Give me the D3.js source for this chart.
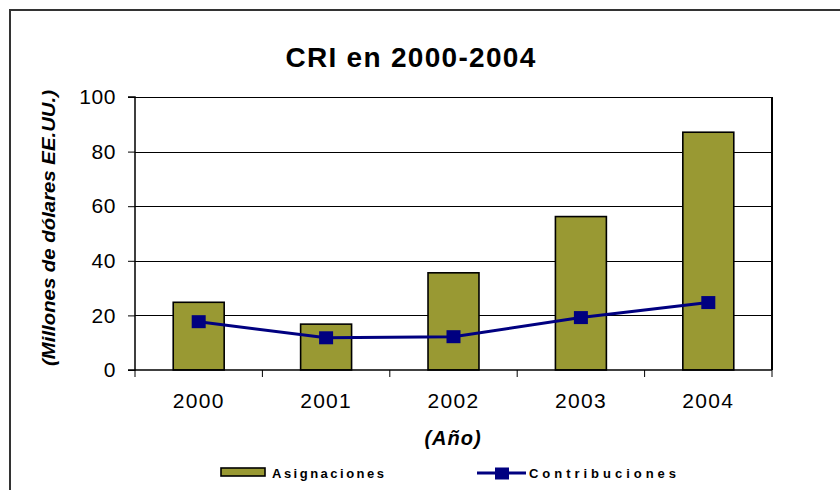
<!DOCTYPE html>
<html><head><meta charset="utf-8">
<script src="https://cdn.jsdelivr.net/npm/d3@7"></script>
<style>body{margin:0;background:#fff}svg{display:block}text{font-family:Arial,"Liberation Sans",sans-serif}</style>
</head><body><svg id="c" width="840" height="490"></svg>
<script>
const categories = ["2000","2001","2002","2003","2004"];
const asignaciones = [24.8, 16.8, 35.6, 56.2, 87.1];
const contribuciones = [17.7, 11.8, 12.2, 19.2, 24.7];
const yTicks = [0,20,40,60,80,100];
const title = "CRI en 2000-2004";
const yTitle = "(Millones de dólares EE.UU.)";
const xTitle = "(Año)";
const seriesNames = ["Asignaciones","Contribuciones"];

const svg = d3.select("#c");
const L=135, R=772, T=97, B=370;
// outer border
svg.append("rect").attr("x",10).attr("y",10).attr("width",840).attr("height",490)
  .attr("fill","none").attr("stroke","#333").attr("stroke-width",2);

const x = d3.scaleBand().domain(categories).range([L,R]).paddingInner(0.6).paddingOuter(0.3);
const y = d3.scaleLinear().domain([0,100]).range([B,T]);
const step = x.step(), bw = x.bandwidth();

// gridlines
svg.append("g").selectAll("line").data(yTicks.filter(d=>d>0&&d<100)).join("line")
  .attr("x1",L).attr("x2",R).attr("y1",d=>Math.round(y(d))+0.5).attr("y2",d=>Math.round(y(d))+0.5)
  .attr("stroke","#000").attr("stroke-width",1);

// plot frame top/right
svg.append("line").attr("x1",L).attr("x2",R).attr("y1",T+0.5).attr("y2",T+0.5).attr("stroke","#000").attr("stroke-width",1);
svg.append("line").attr("x1",R).attr("x2",R).attr("y1",T).attr("y2",B).attr("stroke","#000").attr("stroke-width",2);

// bars
svg.append("g").selectAll("rect").data(asignaciones).join("rect")
  .attr("x",(d,i)=>x(categories[i])).attr("width",bw)
  .attr("y",d=>y(d)).attr("height",d=>B-y(d))
  .attr("fill","#999933").attr("stroke","#000").attr("stroke-width",1.6);

// y axis
const yAxis = d3.axisLeft(y).tickValues(yTicks).tickSize(7).tickPadding(12).tickFormat(d3.format("d"));
const gy = svg.append("g").attr("transform",`translate(${L},0)`).call(yAxis);
gy.select(".domain").attr("stroke","#000").attr("stroke-width",1.5).attr("d",`M-7,${T}H0V${B}H-7`);
gy.selectAll(".tick line").attr("stroke","#000");
gy.selectAll(".tick text").attr("font-size",21).attr("fill","#000").attr("letter-spacing","0.6px")
  .attr("font-family","Arial,'Liberation Sans',sans-serif");

// x axis
const xAxis = d3.axisBottom(x).tickSize(0).tickPadding(23);
const gx = svg.append("g").attr("transform",`translate(0,${B})`).call(xAxis);
gx.select(".domain").attr("stroke","#000").attr("stroke-width",1.5).attr("d",`M${L},0H${R}`);
gx.selectAll(".tick text").attr("font-size",21).attr("fill","#000").attr("letter-spacing","1.3px")
  .attr("font-family","Arial,'Liberation Sans',sans-serif");
// boundary ticks
const bounds = categories.map(c=>x(c)+bw/2-step/2).concat([x(categories[4])+bw/2+step/2]);
gx.append("g").selectAll("line").data(bounds).join("line")
  .attr("x1",d=>d).attr("x2",d=>d).attr("y1",0).attr("y2",7).attr("stroke","#000").attr("stroke-width",1);

// line series
const line = d3.line().x((d,i)=>x(categories[i])+bw/2).y(d=>y(d));
svg.append("path").datum(contribuciones).attr("d",line).attr("fill","none")
  .attr("stroke","#000080").attr("stroke-width",3);
svg.append("g").selectAll("rect").data(contribuciones).join("rect")
  .attr("x",(d,i)=>x(categories[i])+bw/2-7).attr("y",d=>y(d)-6.5)
  .attr("width",14).attr("height",13).attr("fill","#000080");

// title
svg.append("text").attr("x",411).attr("y",67).attr("text-anchor","middle")
  .attr("font-size",28).attr("font-weight","bold").attr("letter-spacing","1.3px").text(title);

// y title
svg.append("text").attr("transform","translate(55,228) rotate(-90)").attr("text-anchor","middle")
  .attr("font-size",19).attr("font-weight","bold").attr("font-style","italic")
  .attr("textLength",276).attr("lengthAdjust","spacingAndGlyphs").text(yTitle);

// x title
svg.append("text").attr("x",453).attr("y",445).attr("text-anchor","middle")
  .attr("font-size",20).attr("font-weight","bold").attr("font-style","italic").attr("letter-spacing","1px").text(xTitle);

// legend
const lg = svg.append("g");
lg.append("rect").attr("x",221).attr("y",468).attr("width",44).attr("height",8)
  .attr("fill","#999933").attr("stroke","#000").attr("stroke-width",1.6);
lg.append("text").attr("x",272).attr("y",477.5).attr("font-size",13).attr("font-weight","bold")
  .attr("textLength",112).attr("lengthAdjust","spacing").text(seriesNames[0]);
lg.append("line").attr("x1",477).attr("x2",526).attr("y1",473).attr("y2",473).attr("stroke","#000080").attr("stroke-width",3);
lg.append("rect").attr("x",495).attr("y",467.5).attr("width",14).attr("height",12).attr("fill","#000080");
lg.append("text").attr("x",529).attr("y",477.5).attr("font-size",13).attr("font-weight","bold")
  .attr("textLength",147).attr("lengthAdjust","spacing").text(seriesNames[1]);
</script></body></html>
